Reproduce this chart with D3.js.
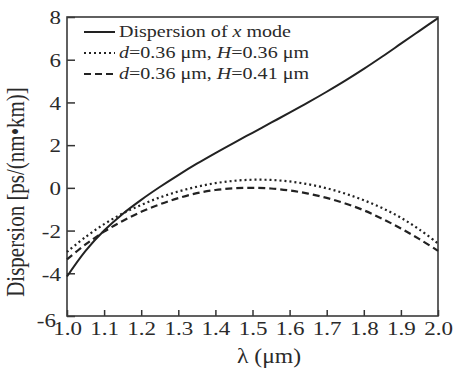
<!DOCTYPE html>
<html><head><meta charset="utf-8">
<script src="https://cdn.jsdelivr.net/npm/d3@7"></script>
<style>
html,body{margin:0;padding:0;background:#fff;}
</style></head>
<body><svg id="c" width="455" height="369"></svg>
<script>
const wavelengths = [1.00,1.05,1.10,1.15,1.20,1.25,1.30,1.35,1.40,1.45,1.50,1.55,1.60,1.65,1.70,1.75,1.80,1.85,1.90,1.95,2.00];
const dispersionX = [-4.15,-2.95,-2.0,-1.22,-0.56,0.04,0.6,1.13,1.63,2.11,2.58,3.05,3.52,4.0,4.5,5.02,5.57,6.15,6.75,7.35,7.95];
const dispH036 = [-3.0,-2.3,-1.7,-1.2,-0.8,-0.45,-0.17,0.05,0.22,0.33,0.38,0.37,0.3,0.17,-0.02,-0.27,-0.58,-0.95,-1.4,-1.95,-2.6];
const dispH041 = [-3.35,-2.65,-2.05,-1.55,-1.12,-0.77,-0.48,-0.25,-0.1,-0.02,0.0,-0.03,-0.12,-0.27,-0.47,-0.73,-1.05,-1.45,-1.9,-2.4,-2.95];
const xTicks = [1.0,1.1,1.2,1.3,1.4,1.5,1.6,1.7,1.8,1.9,2.0];
const yTicks = [-6,-4,-2,0,2,4,6,8];
const legendLabels = [
  [["Dispersion of ",false],["x",true],[" mode",false]],
  [["d",true],["=0.36 μm, ",false],["H",true],["=0.36 μm",false]],
  [["d",true],["=0.36 μm, ",false],["H",true],["=0.41 μm",false]]
];
const dashes = [null,"2,3","7,4"];
const series = [dispersionX, dispH036, dispH041];

const FONT = '"Liberation Serif"';
const TXT = "#2a2a2a";
const SX = 1.18;
const svg = d3.select("#c");
const L=67, R=438, T=17, B=316;
const x = d3.scaleLinear().domain([1.0,2.0]).range([L,R]);
const y = d3.scaleLinear().domain([-6,8]).range([B,T]);

// axes
const gx = svg.append("g").attr("transform",`translate(0,${B})`)
  .call(d3.axisBottom(x).tickValues(xTicks).tickFormat(d3.format(".1f")).tickSizeInner(-6).tickSizeOuter(0));
gx.select(".domain").remove();
gx.attr("font-family",null).attr("font-size",null);
gx.selectAll("line").attr("stroke","#333").attr("stroke-width",1.5);
gx.selectAll("text").style("font-family",FONT).style("font-size","19.5px").attr("fill",TXT)
  .attr("y",5).attr("dy","0.71em").attr("transform",`scale(${SX},1)`);

const gy = svg.append("g").attr("transform",`translate(${L},0)`)
  .call(d3.axisLeft(y).tickValues(yTicks).tickFormat(d=>d<0?"-"+Math.abs(d):d).tickSizeInner(-8).tickSizeOuter(0));
gy.select(".domain").remove();
gy.attr("font-family",null).attr("font-size",null);
gy.selectAll("line").attr("stroke","#333").attr("stroke-width",1.5);
gy.selectAll("text").style("font-family",FONT).style("font-size","19.5px").attr("fill",TXT)
  .attr("x",-6/SX).attr("dy","0.35em").attr("transform",`scale(${SX},1)`);
// lowest label sits slightly left/below, as in the reference
gy.selectAll("text").filter(d=>d===-6).attr("x",-11/SX).attr("y",4);

// frame
svg.append("rect").attr("x",L).attr("y",T).attr("width",R-L).attr("height",B-T)
  .attr("fill","none").attr("stroke","#3a3a3a").attr("stroke-width",1.6);

// curves
const line = d3.line().x((d,i)=>x(wavelengths[i])).y(d=>y(d)).curve(d3.curveCatmullRom);
series.forEach((s,k)=>{
  svg.append("path").datum(s).attr("d",line).attr("fill","none")
    .attr("stroke","#222").attr("stroke-width",k===0?2:2.2)
    .attr("stroke-dasharray",dashes[k]);
});

// legend
legendLabels.forEach((parts,k)=>{
  const ly = 32 + k*21;
  svg.append("line").attr("x1",84).attr("x2",115).attr("y1",ly).attr("y2",ly)
    .attr("stroke","#222").attr("stroke-width",k===0?2:2.2).attr("stroke-dasharray",dashes[k]);
  const t = svg.append("text").attr("transform",`translate(119,${ly+5}) scale(${SX},1)`)
    .style("font-family",FONT).style("font-size","17px").attr("fill",TXT);
  parts.forEach(p=>{ t.append("tspan").text(p[0]).style("font-style",p[1]?"italic":"normal"); });
});

// axis titles
svg.append("text").attr("transform",`translate(24,192) scale(${SX},1) rotate(-90)`)
  .attr("text-anchor","middle").style("font-family",FONT).style("font-size","21px").attr("fill",TXT)
  .text("Dispersion [ps/(nm•km)]");
svg.append("text").attr("transform",`translate(269,363) scale(${SX},1)`)
  .attr("text-anchor","middle").style("font-family",FONT).style("font-size","20px").attr("fill",TXT)
  .text("λ (μm)");
</script></body></html>
